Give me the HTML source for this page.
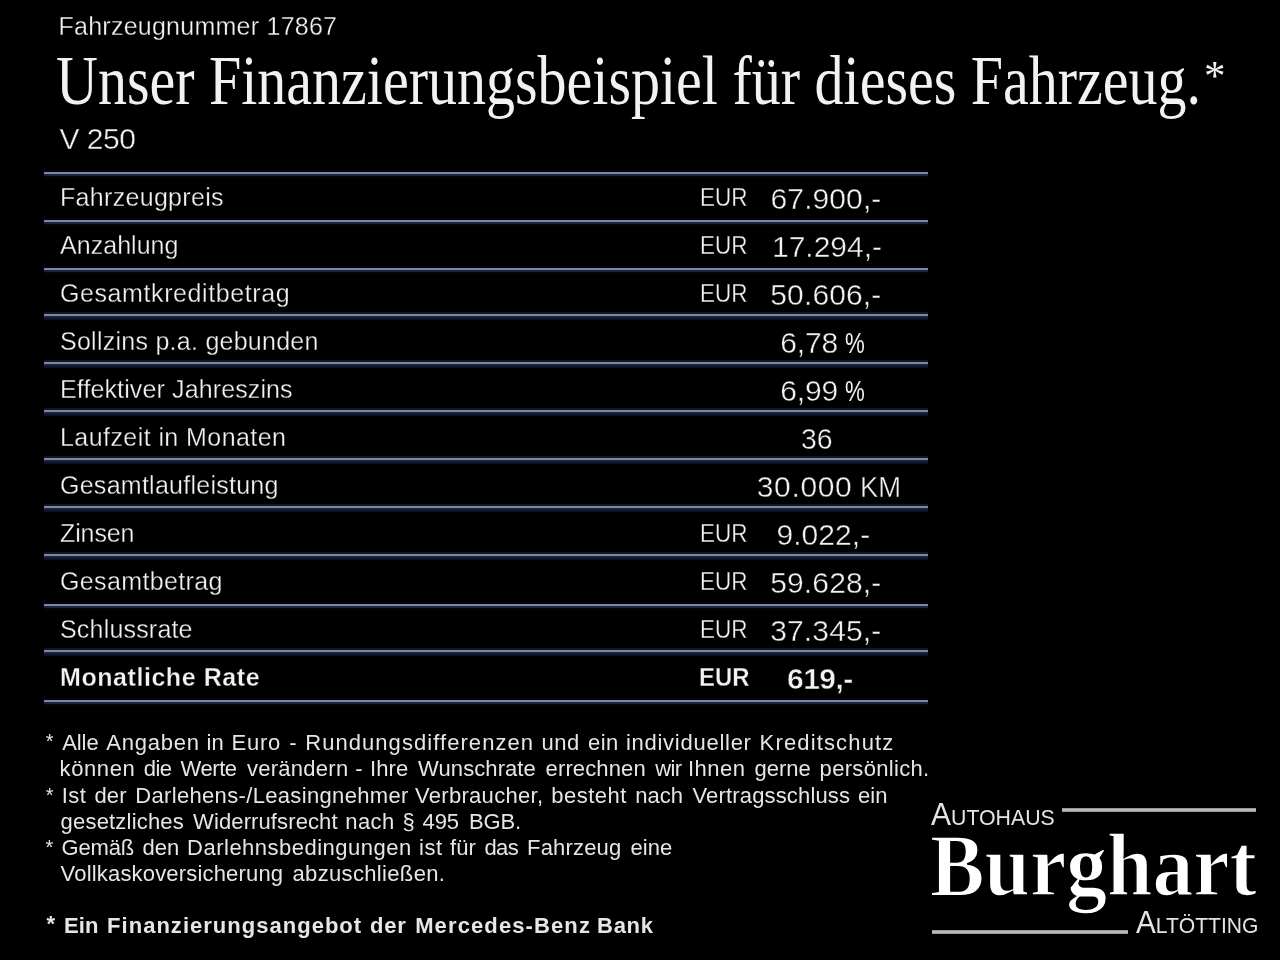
<!DOCTYPE html>
<html lang="de">
<head>
<meta charset="utf-8">
<title>Finanzierungsbeispiel</title>
<style>
html,body{margin:0;padding:0;background:#000;}
body{filter:blur(0.6px);width:1280px;height:960px;position:relative;overflow:hidden;color:#f2f2f2;font-family:"Liberation Sans",sans-serif;}
.t{position:absolute;white-space:nowrap;transform-origin:0 0;line-height:1;}
.serif{font-family:"Liberation Serif",serif;}
.ln{position:absolute;left:44px;width:884px;height:8px;}
.l2{background:linear-gradient(#03050a 0 2px,#7d88a5 2px 4px,#19233d 4px 6px,#04060c 6px 8px);}
.l4{background:linear-gradient(#12161f 0 2px,#7d88a5 2px 4px,#19233d 4px 6px,#0b1226 6px 8px);}
.lab{font-size:25px;left:60px;-webkit-text-stroke:0.3px #000;}
.eur{font-size:25px;left:700px;transform:scaleX(0.9);-webkit-text-stroke:0.3px #000;}
.num{font-size:30px;-webkit-text-stroke:0.4px #000;}
.bar{position:absolute;height:4px;background:linear-gradient(#777 0,#b8b8b8 25%,#b8b8b8 75%,#777 100%);}
.fn{font-size:22px;color:#e6e6e6;}
</style>
</head>
<body>
<div class="t" id="fznr" style="left:58.5px;top:13.5px;font-size:25px;letter-spacing:0.25px;-webkit-text-stroke:0.3px #000;">Fahrzeugnummer 17867</div>
<div class="t serif" id="head" style="left:55.5px;top:47.25px;font-size:69px;transform:scaleX(0.8405);">Unser Finanzierungsbeispiel für dieses Fahrzeug.</div>
<div class="t serif" id="ast" style="left:1204px;top:53.5px;font-size:43px;">*</div>
<div class="t" id="model" style="left:59.5px;top:124px;font-size:30px;letter-spacing:-0.5px;-webkit-text-stroke:0.4px #000;">V 250</div>

<div class="ln l2" style="top:170px"></div>
<div class="ln l2" style="top:218px"></div>
<div class="ln l2" style="top:266px"></div>
<div class="ln l4" style="top:312px"></div>
<div class="ln l4" style="top:360px"></div>
<div class="ln l4" style="top:408px"></div>
<div class="ln l4" style="top:456px"></div>
<div class="ln l4" style="top:504px"></div>
<div class="ln l4" style="top:552px"></div>
<div class="ln l2" style="top:602px"></div>
<div class="ln l4" style="top:648px"></div>
<div class="ln l2" style="top:698px"></div>

<div class="t lab" style="top:185px;letter-spacing:0.31px">Fahrzeugpreis</div>
<div class="t lab" style="top:233px;letter-spacing:0.04px">Anzahlung</div>
<div class="t lab" style="top:281px;letter-spacing:0.59px">Gesamtkreditbetrag</div>
<div class="t lab" style="top:329px;letter-spacing:0.26px">Sollzins p.a. gebunden</div>
<div class="t lab" style="top:377px;letter-spacing:0.12px">Effektiver Jahreszins</div>
<div class="t lab" style="top:425px;letter-spacing:0.43px">Laufzeit in Monaten</div>
<div class="t lab" style="top:473px;letter-spacing:0.26px">Gesamtlaufleistung</div>
<div class="t lab" style="top:521px;letter-spacing:-0.11px">Zinsen</div>
<div class="t lab" style="top:569px;letter-spacing:0.37px">Gesamtbetrag</div>
<div class="t lab" style="top:617px;letter-spacing:0.19px">Schlussrate</div>
<div class="t lab" style="top:665px;font-weight:bold;letter-spacing:0.56px;-webkit-text-stroke:0.3px #000">Monatliche Rate</div>

<div class="t eur" style="top:185px">EUR</div>
<div class="t eur" style="top:233px">EUR</div>
<div class="t eur" style="top:281px">EUR</div>
<div class="t eur" style="top:521px">EUR</div>
<div class="t eur" style="top:569px">EUR</div>
<div class="t eur" style="top:617px">EUR</div>
<div class="t eur" style="top:665px;font-weight:bold;left:698.5px;transform:scaleX(0.955);-webkit-text-stroke:0.3px #000">EUR</div>

<div class="t num" style="left:770.6px;top:184.2px;letter-spacing:0.09px">67.900,-</div>
<div class="t num" style="left:772.0px;top:232.2px;letter-spacing:-0.01px">17.294,-</div>
<div class="t num" style="left:770.3px;top:280.2px;letter-spacing:0.13px">50.606,-</div>
<div class="t num" style="left:780.2px;top:328.2px;letter-spacing:-0.15px">6,78</div>
<div class="t num" style="left:780.2px;top:376.2px;letter-spacing:-0.15px">6,99</div>
<div class="t num" style="left:801.0px;top:424.2px;transform:scaleX(0.947)">36</div>
<div class="t num" style="left:756.8px;top:472.2px;letter-spacing:0.63px">30.000</div>
<div class="t num" style="left:860.1px;top:472.2px;transform:scaleX(0.914)">KM</div>
<div class="t num" style="left:776.5px;top:520.2px;letter-spacing:0.05px">9.022,-</div>
<div class="t num" style="left:770.2px;top:568.2px;letter-spacing:0.14px">59.628,-</div>
<div class="t num" style="left:770.2px;top:616.2px;letter-spacing:0.14px">37.345,-</div>
<div class="t num" style="left:787.0px;top:664.2px;letter-spacing:-0.52px;font-weight:bold;-webkit-text-stroke:0.5px #000">619,-</div>
<div class="t num" style="left:845.3px;top:328.2px;transform:scaleX(0.74);-webkit-text-stroke:0">%</div>
<div class="t num" style="left:845.3px;top:376.2px;transform:scaleX(0.74);-webkit-text-stroke:0">%</div>

<!-- footnotes -->
<div class="t fn" style="left:45.8px;top:731.4px;font-size:20px">*</div>
<div class="t fn" style="left:62.2px;top:731.8px;letter-spacing:-0.07px">Alle</div>
<div class="t fn" style="left:106.2px;top:731.8px;letter-spacing:0.77px">Angaben</div>
<div class="t fn" style="left:206.5px;top:731.8px;letter-spacing:0.11px">in</div>
<div class="t fn" style="left:231.5px;top:731.8px;letter-spacing:0.75px">Euro</div>
<div class="t fn" style="left:289.3px;top:731.8px">-</div>
<div class="t fn" style="left:305.2px;top:731.8px;letter-spacing:1.06px">Rundungsdifferenzen</div>
<div class="t fn" style="left:541.5px;top:731.8px;letter-spacing:0.56px">und</div>
<div class="t fn" style="left:588.1px;top:731.8px;letter-spacing:0.34px">ein</div>
<div class="t fn" style="left:625.9px;top:731.8px;letter-spacing:0.74px">individueller</div>
<div class="t fn" style="left:759.6px;top:731.8px;letter-spacing:1.15px">Kreditschutz</div>
<div class="t fn" style="left:59.6px;top:758.0px;letter-spacing:0.59px">können</div>
<div class="t fn" style="left:143.8px;top:758.0px;letter-spacing:-0.60px">die</div>
<div class="t fn" style="left:180.6px;top:758.0px;letter-spacing:-0.44px">Werte</div>
<div class="t fn" style="left:246.9px;top:758.0px;letter-spacing:0.27px">verändern</div>
<div class="t fn" style="left:355.2px;top:758.0px">-</div>
<div class="t fn" style="left:369.9px;top:758.0px;letter-spacing:0.18px">Ihre</div>
<div class="t fn" style="left:418.1px;top:758.0px;letter-spacing:0.08px">Wunschrate</div>
<div class="t fn" style="left:545.6px;top:758.0px;letter-spacing:0.12px">errechnen</div>
<div class="t fn" style="left:655.3px;top:758.0px;letter-spacing:-0.60px">wir</div>
<div class="t fn" style="left:688.0px;top:758.0px;letter-spacing:0.48px">Ihnen</div>
<div class="t fn" style="left:754.4px;top:758.0px;letter-spacing:0.04px">gerne</div>
<div class="t fn" style="left:819.6px;top:758.0px;letter-spacing:0.32px">persönlich.</div>
<div class="t fn" style="left:45.8px;top:784.9px;font-size:20px">*</div>
<div class="t fn" style="left:61.8px;top:784.9px;letter-spacing:0.37px">Ist</div>
<div class="t fn" style="left:94.4px;top:784.9px;letter-spacing:0.19px">der</div>
<div class="t fn" style="left:135.2px;top:784.9px;letter-spacing:0.34px">Darlehens-/Leasingnehmer</div>
<div class="t fn" style="left:415.0px;top:784.9px;letter-spacing:0.30px">Verbraucher,</div>
<div class="t fn" style="left:551.2px;top:784.9px;letter-spacing:0.49px">besteht</div>
<div class="t fn" style="left:635.2px;top:784.9px;letter-spacing:0.06px">nach</div>
<div class="t fn" style="left:692.5px;top:784.9px;letter-spacing:0.16px">Vertragsschluss</div>
<div class="t fn" style="left:858.1px;top:784.9px;letter-spacing:0.01px">ein</div>
<div class="t fn" style="left:60.6px;top:811.1px;letter-spacing:0.19px">gesetzliches</div>
<div class="t fn" style="left:193.1px;top:811.1px;letter-spacing:0.11px">Widerrufsrecht</div>
<div class="t fn" style="left:345.2px;top:811.1px;letter-spacing:0.46px">nach</div>
<div class="t fn" style="left:402.4px;top:811.1px">§</div>
<div class="t fn" style="left:422.5px;top:811.1px;letter-spacing:-0.11px">495</div>
<div class="t fn" style="left:469.0px;top:811.1px;letter-spacing:-0.15px">BGB.</div>
<div class="t fn" style="left:45.5px;top:837.1px;font-size:20px">*</div>
<div class="t fn" style="left:61.5px;top:836.9px;letter-spacing:-0.16px">Gemäß</div>
<div class="t fn" style="left:142.5px;top:836.9px;letter-spacing:0.06px">den</div>
<div class="t fn" style="left:187.1px;top:836.9px;letter-spacing:0.49px">Darlehnsbedingungen</div>
<div class="t fn" style="left:419.0px;top:836.9px;letter-spacing:0.51px">ist</div>
<div class="t fn" style="left:450.0px;top:836.9px;letter-spacing:0.13px">für</div>
<div class="t fn" style="left:484.4px;top:836.9px;letter-spacing:-0.56px">das</div>
<div class="t fn" style="left:527.1px;top:836.9px;letter-spacing:0.17px">Fahrzeug</div>
<div class="t fn" style="left:630.6px;top:836.9px;letter-spacing:0.01px">eine</div>
<div class="t fn" style="left:60.6px;top:863.4px;letter-spacing:0.18px">Vollkaskoversicherung</div>
<div class="t fn" style="left:292.5px;top:863.4px;letter-spacing:0.34px">abzuschließen.</div>
<div class="t fn" style="left:46.4px;top:913.3px;font-weight:bold">*</div>
<div class="t fn" style="left:64.0px;top:915.0px;letter-spacing:0.16px;font-weight:bold">Ein</div>
<div class="t fn" style="left:107.1px;top:915.0px;letter-spacing:1.02px;font-weight:bold">Finanzierungsangebot</div>
<div class="t fn" style="left:370.0px;top:915.0px;letter-spacing:0.79px;font-weight:bold">der</div>
<div class="t fn" style="left:415.2px;top:915.0px;letter-spacing:1.11px;font-weight:bold">Mercedes-Benz</div>
<div class="t fn" style="left:597.1px;top:915.0px;letter-spacing:0.70px;font-weight:bold">Bank</div>

<div class="t" id="ah" style="left:931px;top:798.6px;font-size:31px;color:#e4e4e4;transform:scaleX(0.968)">A<span style="font-size:22px">UTOHAUS</span></div>
<div class="bar" style="left:1062px;top:808px;width:194px;"></div>
<div class="t serif" id="burg" style="left:930px;top:821.7px;font-size:88px;font-weight:bold;transform:scaleX(0.928);color:#fff;-webkit-text-stroke:1.5px #000">Burghart</div>
<div class="bar" style="left:932px;top:930px;width:195.5px;"></div>
<div class="t" id="alt" style="left:1136px;top:907.1px;font-size:31px;color:#e4e4e4;transform:scaleX(0.958)">A<span style="font-size:22px">LTÖTTING</span></div>
</body>
</html>
